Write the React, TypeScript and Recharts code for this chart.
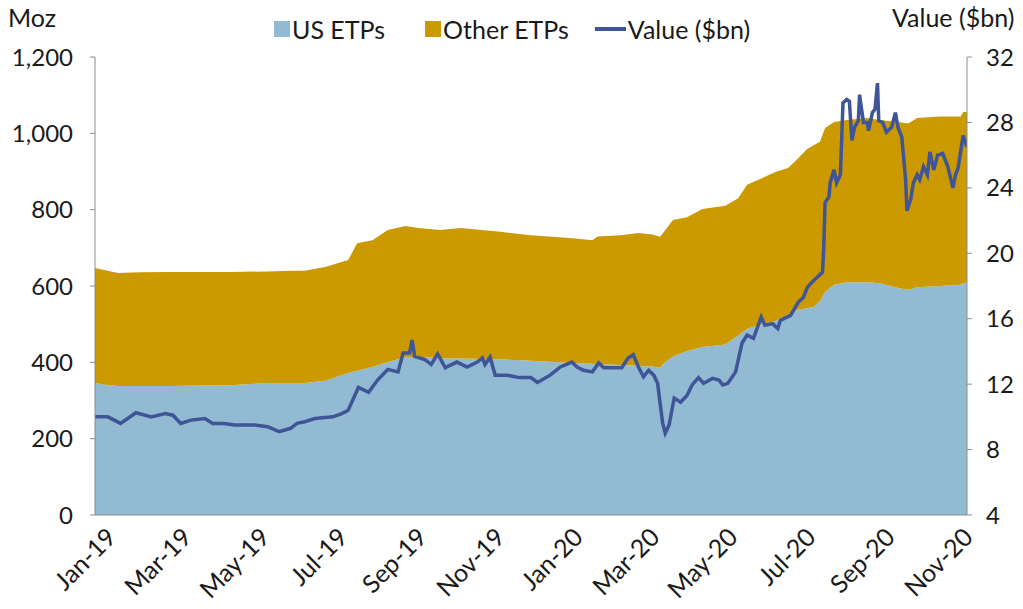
import React from 'react';
import { ComposedChart, Area, Line, XAxis, YAxis, Legend } from 'recharts';

// ---- Data ----
const areaDates = [
  '2019-01-01','2019-01-11','2019-01-19','2019-02-05','2019-03-01','2019-03-24','2019-04-17','2019-05-16',
  '2019-06-03','2019-06-14','2019-06-30','2019-07-18','2019-07-25','2019-08-06','2019-08-18','2019-09-01',
  '2019-09-11','2019-09-28','2019-10-14','2019-11-14','2019-12-08','2020-01-10','2020-01-25','2020-01-29',
  '2020-02-16','2020-03-01','2020-03-12','2020-03-18','2020-03-21','2020-03-28','2020-04-08','2020-04-20',
  '2020-05-08','2020-05-18','2020-05-25','2020-06-06','2020-06-16','2020-06-26','2020-07-02','2020-07-11',
  '2020-07-16','2020-07-21','2020-07-25','2020-08-01','2020-08-11','2020-08-27','2020-09-06','2020-09-20',
  '2020-09-28','2020-10-05','2020-10-23','2020-11-08','2020-11-10','2020-11-13',
];
const usEtps = [
  346,340,338,338,338,339,340,346,
  346,346,352,372,378,388,400,414,
  414,411,410,408,404,398,396,395,
  393,391,389,386,398,415,430,440,
  447,470,488,500,508,525,537,542,
  545,560,584,603,610,610,607,595,
  590,597,600,603,607,610,
];
const otherEtps = [
  301,300,296,298,299,298,297,292,
  294,294,298,296,334,332,347,343,
  338,336,342,334,329,327,324,335,
  340,348,346,343,344,358,350,362,
  363,360,377,383,391,384,391,417,
  424,418,430,427,425,430,428,435,
  436,443,444,441,449,446,
];

const lineDates = [
  '2019-01-01','2019-01-11','2019-01-21','2019-02-02','2019-02-14','2019-02-25','2019-03-03','2019-03-09',
  '2019-03-17','2019-03-28','2019-04-03','2019-04-12','2019-04-20','2019-05-06','2019-05-16','2019-05-25',
  '2019-06-03','2019-06-08','2019-06-14','2019-06-22','2019-07-06','2019-07-13','2019-07-18','2019-07-26',
  '2019-08-03','2019-08-10','2019-08-18','2019-08-26','2019-08-30','2019-09-04','2019-09-06','2019-09-08',
  '2019-09-16','2019-09-21','2019-09-26','2019-10-02','2019-10-03','2019-10-11','2019-10-19','2019-10-27',
  '2019-10-31','2019-11-02','2019-11-06','2019-11-10','2019-11-19','2019-11-29','2019-12-08','2019-12-13',
  '2019-12-23','2019-12-31','2020-01-09','2020-01-13','2020-01-18','2020-01-25','2020-01-30','2020-02-03',
  '2020-02-12','2020-02-17','2020-02-22','2020-02-26','2020-03-01','2020-03-05','2020-03-09','2020-03-13',
  '2020-03-16','2020-03-20','2020-03-22','2020-03-25','2020-03-29','2020-04-03','2020-04-08','2020-04-12',
  '2020-04-17','2020-04-21','2020-04-28','2020-05-03','2020-05-06','2020-05-10','2020-05-16','2020-05-21',
  '2020-05-25','2020-05-30','2020-06-05','2020-06-08','2020-06-14','2020-06-18','2020-06-20','2020-06-28',
  '2020-07-04','2020-07-08','2020-07-11','2020-07-15','2020-07-19','2020-07-23','2020-07-24','2020-07-25',
  '2020-07-28','2020-07-29','2020-08-01','2020-08-03','2020-08-06','2020-08-08','2020-08-11','2020-08-13',
  '2020-08-15','2020-08-17','2020-08-20','2020-08-21','2020-08-24','2020-08-27','2020-08-28','2020-08-31',
  '2020-09-02','2020-09-04','2020-09-05','2020-09-08','2020-09-11','2020-09-15','2020-09-18','2020-09-20',
  '2020-09-23','2020-09-26','2020-09-27','2020-09-30','2020-10-02','2020-10-05','2020-10-07','2020-10-10',
  '2020-10-13','2020-10-15','2020-10-18','2020-10-21','2020-10-25','2020-10-29','2020-11-02','2020-11-04',
  '2020-11-06','2020-11-10','2020-11-13',
];
const valueBn = [
  10.0,10.0,9.6,10.25,10.0,10.2,10.1,9.6,
  9.8,9.9,9.6,9.6,9.5,9.5,9.4,9.1,
  9.3,9.6,9.7,9.9,10.0,10.2,10.4,11.8,
  11.5,12.25,12.9,12.75,13.9,13.9,14.7,13.7,
  13.5,13.2,13.85,13.0,13.05,13.35,13.05,13.35,
  13.6,13.2,13.65,12.55,12.55,12.4,12.4,12.1,
  12.55,13.05,13.35,13.05,12.85,12.75,13.3,13.0,
  13.0,13.0,13.6,13.8,13.05,12.45,12.85,12.55,
  12.05,9.6,9.0,9.5,11.15,10.9,11.3,11.95,
  12.4,12.05,12.35,12.25,11.95,12.05,12.75,14.5,
  15.0,14.8,16.1,15.6,15.7,15.4,15.9,16.2,
  17.0,17.3,17.9,18.25,18.55,18.85,20.4,23.1,
  23.45,24.3,25.1,24.3,24.8,29.2,29.4,29.3,
  26.9,27.7,28.1,29.7,28.0,28.0,27.5,28.6,
  28.8,30.4,28.1,28.0,27.4,27.7,28.6,27.7,
  27.1,24.5,22.6,23.3,24.3,24.8,24.5,25.3,
  24.8,26.2,25.1,26.0,26.1,25.3,24.0,24.8,
  25.2,27.2,26.5,
];

const xTickDates = [
  '2019-01-01','2019-03-01','2019-05-01','2019-07-01','2019-09-01','2019-11-01',
  '2020-01-01','2020-03-01','2020-05-01','2020-07-01','2020-09-01','2020-11-01',
];
const xTickLabels = [
  'Jan-19','Mar-19','May-19','Jul-19','Sep-19','Nov-19',
  'Jan-20','Mar-20','May-20','Jul-20','Sep-20','Nov-20',
];
const leftTicks = [0, 200, 400, 600, 800, 1000, 1200];
const rightTicks = [4, 8, 12, 16, 20, 24, 28, 32];
const xStart = '2019-01-01';
const xEnd = '2020-11-13';

// ---- Styles ----
const FONT = 'Lato, "Open Sans", sans-serif';
const US_COLOR = '#92BAD3';
const OTHER_COLOR = '#CB9900';
const LINE_COLOR = '#3F5597';
const AXIS_COLOR = '#8C8C8C';
const TEXT_COLOR = '#1a1a1a';

const areaData = areaDates.map((d, i) => ({ t: Date.parse(d), us: usEtps[i], other: otherEtps[i] }));
const lineData = lineDates.map((d, i) => ({ t: Date.parse(d), value: valueBn[i] }));
const xTicks = xTickDates.map((d) => Date.parse(d));
const labelFor = (v: number) => {
  const i = xTicks.indexOf(v);
  return i >= 0 ? xTickLabels[i] : '';
};

const XTick = (props: any) => {
  const { x, y, payload } = props;
  return (
    <g transform={`translate(${x},${y})`}>
      <text
        x={5}
        y={21}
        textAnchor="end"
        fill={TEXT_COLOR}
        fontSize={25}
        fontFamily={FONT}
        transform="rotate(-45)"
        dominantBaseline="middle"
      >
        {labelFor(payload.value)}
      </text>
    </g>
  );
};

const LegendContent = () => (
  <div
    style={{
      position: 'absolute',
      left: 274,
      top: 0,
      display: 'flex',
      alignItems: 'center',
      fontFamily: FONT,
      fontSize: 25,
      color: TEXT_COLOR,
      whiteSpace: 'nowrap',
    }}
  >
    <span style={{ width: 16, height: 16, background: US_COLOR, display: 'inline-block', marginRight: 2 }} />
    <span style={{ marginRight: 40 }}>US ETPs</span>
    <span style={{ width: 16, height: 16, background: OTHER_COLOR, display: 'inline-block', marginRight: 2 }} />
    <span style={{ marginRight: 26 }}>Other ETPs</span>
    <span style={{ width: 31, height: 4, background: LINE_COLOR, display: 'inline-block', marginRight: 2 }} />
    <span>Value ($bn)</span>
  </div>
);

export default function App() {
  return (
    <div style={{ position: 'absolute', left: 0, top: 0, width: 1023, height: 609, background: '#fff' }}>
      <div style={{ position: 'absolute', left: 8, top: 2, fontFamily: FONT, fontSize: 25, color: TEXT_COLOR }}>Moz</div>
      <div style={{ position: 'absolute', left: 892, top: 2, fontFamily: FONT, fontSize: 25, color: TEXT_COLOR }}>Value ($bn)</div>
      <ComposedChart
        width={1023}
        height={609}
        data={areaData}
        margin={{ top: 27, right: 16, bottom: 24, left: 35 }}
      >
        <Legend
          verticalAlign="top"
          content={<LegendContent />}
          wrapperStyle={{ position: 'absolute', top: 14, left: 0, width: 1023, height: 30 }}
        />
        <XAxis
          dataKey="t"
          type="number"
          domain={[Date.parse(xStart), Date.parse(xEnd)]}
          ticks={xTicks}
          tick={<XTick />}
          tickLine={false}
          axisLine={{ stroke: AXIS_COLOR }}
          height={70}
          interval={0}
          allowDataOverflow
        />
        <YAxis
          yAxisId="left"
          domain={[0, 1200]}
          ticks={leftTicks}
          tickFormatter={(v: number) => v.toLocaleString('en-US')}
          tick={{ fill: TEXT_COLOR, fontSize: 24, fontFamily: FONT }}
          tickLine={{ stroke: AXIS_COLOR }}
          axisLine={{ stroke: AXIS_COLOR }}
          tickSize={5}
          tickMargin={17}
          width={60}
          interval={0}
        />
        <YAxis
          yAxisId="right"
          orientation="right"
          domain={[4, 32]}
          ticks={rightTicks}
          tick={{ fill: TEXT_COLOR, fontSize: 24, fontFamily: FONT }}
          tickLine={{ stroke: AXIS_COLOR }}
          axisLine={{ stroke: AXIS_COLOR }}
          tickSize={5}
          tickMargin={14}
          width={40}
          interval={0}
        />
        <Area
          yAxisId="left"
          type="linear"
          dataKey="us"
          name="US ETPs"
          stackId="etp"
          fill={US_COLOR}
          fillOpacity={1}
          stroke="none"
          isAnimationActive={false}
        />
        <Area
          yAxisId="left"
          type="linear"
          dataKey="other"
          name="Other ETPs"
          stackId="etp"
          fill={OTHER_COLOR}
          fillOpacity={1}
          stroke="none"
          isAnimationActive={false}
        />
        <Line
          yAxisId="right"
          data={lineData}
          type="linear"
          dataKey="value"
          name="Value ($bn)"
          stroke={LINE_COLOR}
          strokeWidth={3.5}
          dot={false}
          isAnimationActive={false}
        />
      </ComposedChart>
    </div>
  );
}
